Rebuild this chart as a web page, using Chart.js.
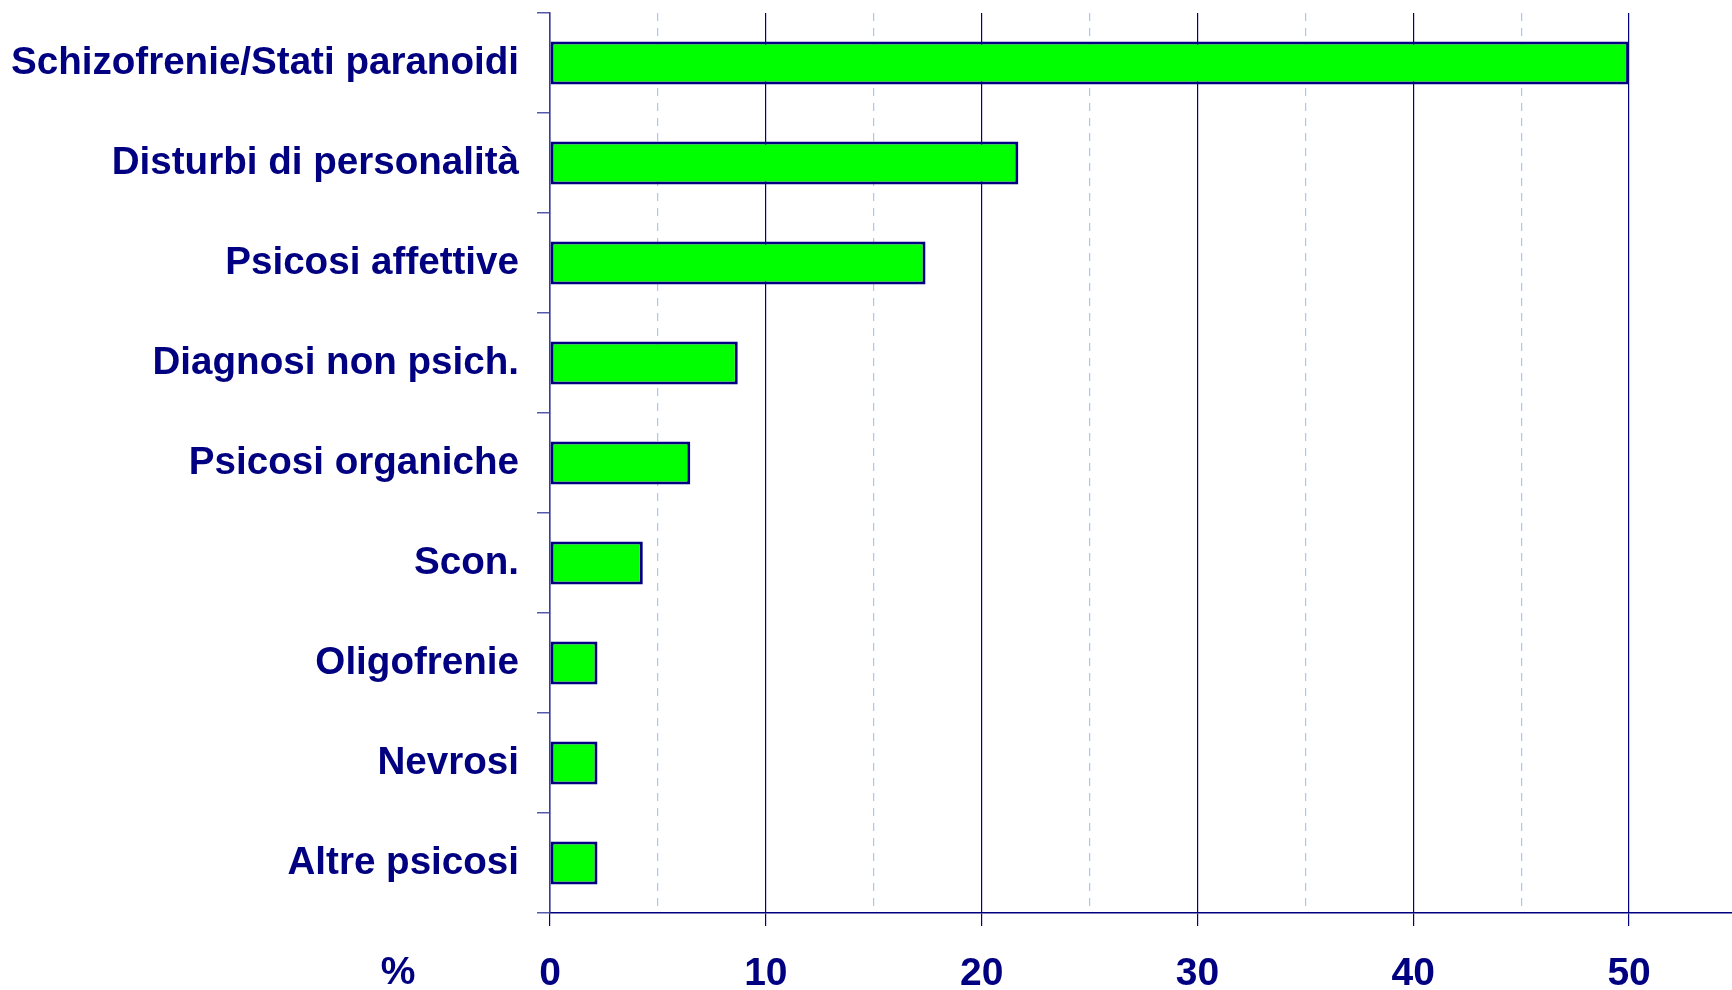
<!DOCTYPE html>
<html>
<head>
<meta charset="utf-8">
<script src="https://cdn.jsdelivr.net/npm/chart.js@4/dist/chart.umd.min.js"></script>
<style>
  html, body { margin: 0; padding: 0; background: #ffffff; overflow: hidden; }
  #wrap { position: absolute; left: 0; top: 0; width: 1737px; height: 990px; }
</style>
</head>
<body>
<div id="wrap"><canvas id="c"></canvas></div>
<script>
const categories = [
  "Schizofrenie/Stati paranoidi",
  "Disturbi di personalità",
  "Psicosi affettive",
  "Diagnosi non psich.",
  "Psicosi organiche",
  "Scon.",
  "Oligofrenie",
  "Nevrosi",
  "Altre psicosi"
];
const percentValues = [50, 21.7, 17.4, 8.7, 6.5, 4.3, 2.2, 2.2, 2.2];
const xTickLabels = [0, 10, 20, 30, 40, 50];
const unitLabel = "%";

const NAVY = "#000080";
const FONT = "'Liberation Sans', Arial, sans-serif";

const unitPlugin = {
  id: "unitLabel",
  afterDraw(chart) {
    const xs = chart.scales.x;
    const ctx = chart.ctx;
    ctx.save();
    ctx.font = "bold 39px " + FONT;
    ctx.fillStyle = NAVY;
    ctx.textAlign = "center";
    ctx.textBaseline = "middle";
    ctx.fillText(unitLabel, xs.left - 152, xs.bottom - 17);
    ctx.restore();
  }
};

new Chart(document.getElementById("c"), {
  type: "bar",
  data: {
    labels: categories,
    datasets: [{
      data: percentValues,
      backgroundColor: "#00ff00",
      borderColor: NAVY,
      borderWidth: 3,
      borderSkipped: false,
      barPercentage: 0.43,
      categoryPercentage: 1.0
    }]
  },
  options: {
    indexAxis: "y",
    responsive: true,
    maintainAspectRatio: false,
    animation: false,
    devicePixelRatio: 1,
    layout: { padding: { left: 0, right: 0, top: 13, bottom: 0 } },
    plugins: { legend: { display: false }, tooltip: { enabled: false } },
    scales: {
      x: {
        type: "linear",
        min: 0,
        max: 55,
        position: "bottom",
        afterFit(scale) { scale.height = 77; scale.paddingLeft = 0; scale.paddingRight = 0; },
        ticks: {
          stepSize: 5,
          autoSkip: false,
          maxRotation: 0,
          padding: 25,
          color: NAVY,
          font: { family: FONT, size: 39, weight: "bold" },
          callback: (v) => xTickLabels.includes(v) ? String(v) : ""
        },
        grid: {
          drawOnChartArea: true,
          drawTicks: true,
          tickLength: 13,
          lineWidth: 1.2,
          color: (c) => (c.tick && xTickLabels.includes(c.tick.value)) ? NAVY : "#99ccff",
          tickColor: (c) => (c.tick && xTickLabels.includes(c.tick.value)) ? NAVY : "rgba(0,0,0,0)"
        },
        border: {
          display: true,
          color: NAVY,
          width: 1.5,
          dash: (c) => (c.tick && !xTickLabels.includes(c.tick.value)) ? [8, 7] : []
        }
      },
      y: {
        type: "category",
        afterFit(scale) { scale.width = 550; scale.paddingTop = 0; scale.paddingBottom = 0; },
        ticks: {
          padding: 18,
          color: NAVY,
          font: { family: FONT, size: 38.6, weight: "bold" }
        },
        grid: {
          offset: true,
          drawOnChartArea: false,
          drawTicks: true,
          tickLength: 13,
          tickColor: "#5858a8",
          lineWidth: 1.5
        },
        border: { display: true, color: "#3a3a98", width: 1.5 }
      }
    }
  },
  plugins: [unitPlugin]
});
</script>
</body>
</html>
